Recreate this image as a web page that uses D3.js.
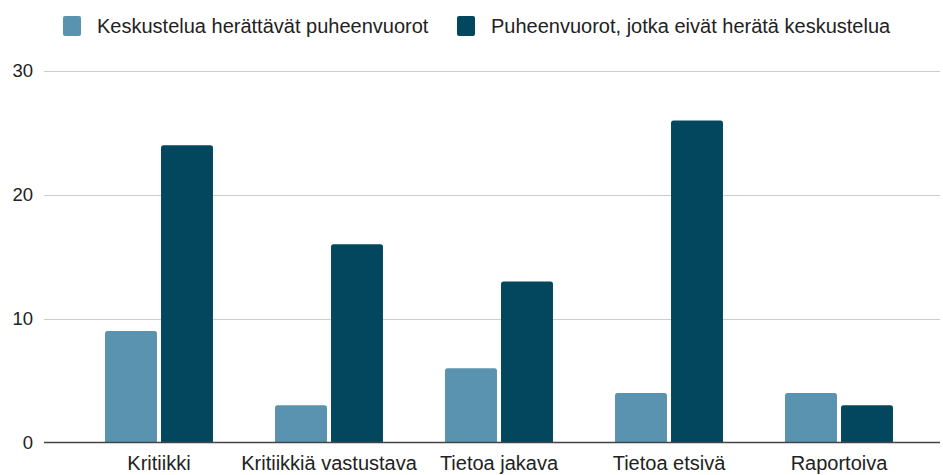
<!DOCTYPE html>
<html>
<head>
<meta charset="utf-8">
<script src="https://cdn.jsdelivr.net/npm/d3@7"></script>
<style>
  body { margin: 0; background: #fff; }
  svg { display: block; font-family: "Liberation Sans", Arial, sans-serif; }
</style>
</head>
<body>
<svg id="chart" width="943" height="475"></svg>
<script>

var categories = ['Kritiikki', 'Kritiikkiä vastustava', 'Tietoa jakava', 'Tietoa etsivä', 'Raportoiva'];
var seriesNames = ['Keskustelua herättävät puheenvuorot', 'Puheenvuorot, jotka eivät herätä keskustelua'];
var herattavat = [9, 3, 6, 4, 4];
var eiHerata = [24, 16, 13, 26, 3];
var yTicks = [0, 10, 20, 30];
var colors = ['#5a93b0', '#03475f'];

var svg = d3.select('#chart');

var x = d3.scaleBand().domain(categories).range([74, 924]).paddingInner(0.365).paddingOuter(0.1825);
var xs = d3.scaleBand().domain([0, 1]).range([0, x.bandwidth()]).paddingInner(0.072);
var y = d3.scaleLinear().domain([0, 30]).range([442.5, 71]);

// gridlines
svg.append('g').selectAll('line').data(yTicks.filter(function(d){ return d > 0; }))
    .enter().append('line')
    .attr('x1', 44).attr('x2', 940)
    .attr('y1', function(d){ return Math.round(y(d)) + 0.5; })
    .attr('y2', function(d){ return Math.round(y(d)) + 0.5; })
    .attr('stroke', '#cccccc').attr('stroke-width', 1);

// y labels
svg.append('g').selectAll('text').data(yTicks)
    .enter().append('text')
    .attr('x', 33).attr('y', function(d){ return y(d); })
    .attr('dy', '0.35em')
    .attr('text-anchor', 'end')
    .style('font-size', '18.5px').style('fill', '#222')
    .text(function(d){ return d; });

function topRounded(x0, y0, w, h, r){
    r = Math.min(r, h);
    return 'M' + x0 + ',' + (y0 + h) +
           'V' + (y0 + r) +
           'Q' + x0 + ',' + y0 + ' ' + (x0 + r) + ',' + y0 +
           'H' + (x0 + w - r) +
           'Q' + (x0 + w) + ',' + y0 + ' ' + (x0 + w) + ',' + (y0 + r) +
           'V' + (y0 + h) + 'Z';
}

var rows = categories.map(function(c, i){ return { cat: c, vals: [herattavat[i], eiHerata[i]] }; });

var groups = svg.append('g').selectAll('g').data(rows).enter().append('g')
    .attr('transform', function(d){ return 'translate(' + x(d.cat) + ',0)'; });

groups.selectAll('path').data(function(d){ return d.vals.map(function(v, k){ return { k: k, v: v }; }); })
    .enter().append('path')
    .attr('d', function(d){
        return topRounded(xs(d.k), y(d.v), xs.bandwidth(), y(0) - y(d.v), 2.5);
    })
    .attr('fill', function(d){ return colors[d.k]; });

// baseline
svg.append('line')
    .attr('x1', 44).attr('x2', 940)
    .attr('y1', y(0)).attr('y2', y(0))
    .attr('stroke', '#444').attr('stroke-width', 1.5);

// category labels
svg.append('g').selectAll('text').data(categories)
    .enter().append('text')
    .attr('x', function(d){ return x(d) + x.bandwidth() / 2; })
    .attr('y', 470)
    .attr('text-anchor', 'middle')
    .style('font-size', '20px').style('fill', '#222')
    .text(function(d){ return d; });

// legend
var legendX = [63, 457];
var leg = svg.append('g').selectAll('g').data(seriesNames).enter().append('g')
    .attr('transform', function(d, i){ return 'translate(' + legendX[i] + ',0)'; });
leg.append('rect')
    .attr('x', 0).attr('y', 16).attr('width', 18).attr('height', 20).attr('rx', 2)
    .attr('fill', function(d, i){ return colors[i]; });
leg.append('text')
    .attr('x', 34).attr('y', 26).attr('dy', '0.35em')
    .style('font-size', '20px').style('fill', '#222')
    .text(function(d){ return d; });

</script>
</body>
</html>
